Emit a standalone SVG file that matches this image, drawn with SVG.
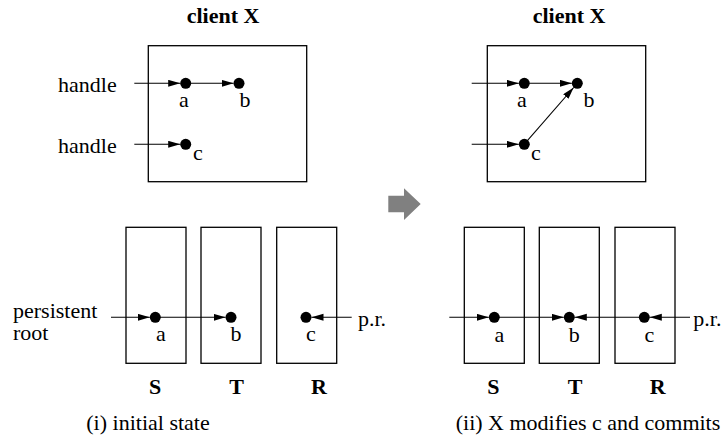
<svg xmlns="http://www.w3.org/2000/svg" width="726" height="439" viewBox="0 0 726 439">
<defs>
<style>
text{font-family:"Liberation Serif","Times New Roman",serif;font-size:22px;fill:#000}
.b{font-weight:bold}
.m{text-anchor:middle}
.box{fill:none;stroke:#000;stroke-width:1.3}
.dot{fill:#000}
.ln{stroke:#000;stroke-width:1.1;fill:none;marker-end:url(#ah)}
.pl{stroke:#000;stroke-width:1.1;fill:none}
</style>
<marker id="ah" markerUnits="userSpaceOnUse" markerWidth="13" markerHeight="8" refX="12" refY="3.5" orient="auto">
<path d="M0,0 L12,3.5 L0,7 z" fill="#000"/>
</marker>
</defs>
<rect width="726" height="439" fill="#fff"/>

<!-- Left panel -->
<g id="left-client">
<text class="b m" x="223" y="23">client X</text>
<rect class="box" x="148.3" y="45.7" width="158.4" height="136"/>
<text x="58" y="92">handle</text>
<text x="58" y="153">handle</text>
</g>
<g id="left-a"><circle class="dot" cx="185.7" cy="83.3" r="5.5"/><text class="m" x="184" y="107">a</text></g>
<g id="left-b"><circle class="dot" cx="239" cy="83.3" r="5.5"/><text class="m" x="245" y="107">b</text></g>
<g id="left-c"><circle class="dot" cx="185.7" cy="144.3" r="5.5"/><text class="m" x="198" y="160">c</text></g>

<g id="left-S"><rect class="box" x="126" y="227.3" width="60" height="136"/><text class="b m" x="155" y="394">S</text></g>
<g id="left-T"><rect class="box" x="201" y="227.3" width="60" height="136"/><text class="b m" x="236.7" y="394">T</text></g>
<g id="left-R"><rect class="box" x="276.7" y="227.3" width="60" height="136"/><text class="b m" x="319" y="394">R</text></g>
<g id="left-sa"><circle class="dot" cx="155.3" cy="317.3" r="5.5"/><text class="m" x="161" y="341">a</text></g>
<g id="left-sb"><circle class="dot" cx="231" cy="317.3" r="5.5"/><text class="m" x="236" y="341">b</text></g>
<g id="left-sc"><circle class="dot" cx="306" cy="317.3" r="5.5"/><text class="m" x="311" y="341">c</text></g>
<g id="left-labels">
<text x="13" y="318">persistent</text>
<text x="13" y="340">root</text>
<text x="358" y="326">p.r.</text>
<text class="m" x="148" y="430">(i) initial state</text>
</g>

<!-- Transition arrow -->
<g id="transition">
<polygon points="388.3,195.7 404,195.7 404,188.3 420.7,204 404,220 404,212.3 388.3,212.3" fill="#808080"/>
</g>

<!-- Right panel -->
<g id="right-client">
<text class="b m" x="569" y="23">client X</text>
<rect class="box" x="487.3" y="45.7" width="158.4" height="136"/>
</g>
<g id="right-a"><circle class="dot" cx="524.3" cy="83.3" r="5.5"/><text class="m" x="522" y="107">a</text></g>
<g id="right-b"><circle class="dot" cx="577.3" cy="83.3" r="5.5"/><text class="m" x="589" y="107">b</text></g>
<g id="right-c"><circle class="dot" cx="524.3" cy="144.3" r="5.5"/><text class="m" x="536" y="160">c</text></g>

<g id="right-S"><rect class="box" x="464.3" y="227.3" width="60" height="136"/><text class="b m" x="493.3" y="394">S</text></g>
<g id="right-T"><rect class="box" x="539.3" y="227.3" width="60" height="136"/><text class="b m" x="575" y="394">T</text></g>
<g id="right-R"><rect class="box" x="615" y="227.3" width="60" height="136"/><text class="b m" x="657.7" y="394">R</text></g>
<g id="right-sa"><circle class="dot" cx="494.3" cy="317.3" r="5.5"/><text class="m" x="499.3" y="341.7">a</text></g>
<g id="right-sb"><circle class="dot" cx="569.3" cy="317.3" r="5.5"/><text class="m" x="574.3" y="341.7">b</text></g>
<g id="right-sc"><circle class="dot" cx="644.3" cy="317.3" r="5.5"/><text class="m" x="649.3" y="341.7">c</text></g>
<g id="right-labels">
<text x="693.3" y="326">p.r.</text>
<text class="m" x="588" y="430">(ii) X modifies c and commits</text>
</g>

<g id="connectors">
<!-- left panel -->
<line class="ln" x1="134.3" y1="83.3" x2="180.2" y2="83.3"/>
<line class="ln" x1="191" y1="83.3" x2="233.5" y2="83.3"/>
<line class="ln" x1="134.3" y1="144.3" x2="180.2" y2="144.3"/>
<line class="ln" x1="111" y1="317.3" x2="149.8" y2="317.3"/>
<line class="ln" x1="160" y1="317.3" x2="225.5" y2="317.3"/>
<line class="ln" x1="351.7" y1="317.3" x2="311.5" y2="317.3"/>
<!-- right panel -->
<line class="ln" x1="471.7" y1="83.3" x2="518.8" y2="83.3"/>
<line class="ln" x1="529.5" y1="83.3" x2="571.8" y2="83.3"/>
<line class="ln" x1="471.7" y1="144.3" x2="518.8" y2="144.3"/>
<line class="ln" x1="526.5" y1="141.6" x2="573.7" y2="87.5"/>
<line class="ln" x1="449.3" y1="317.3" x2="488.8" y2="317.3"/>
<line class="ln" x1="499" y1="317.3" x2="563.8" y2="317.3"/>
<line class="ln" x1="640" y1="317.3" x2="574.8" y2="317.3"/>
<line class="ln" x1="690" y1="317.3" x2="649.8" y2="317.3"/>
</g>
</svg>
